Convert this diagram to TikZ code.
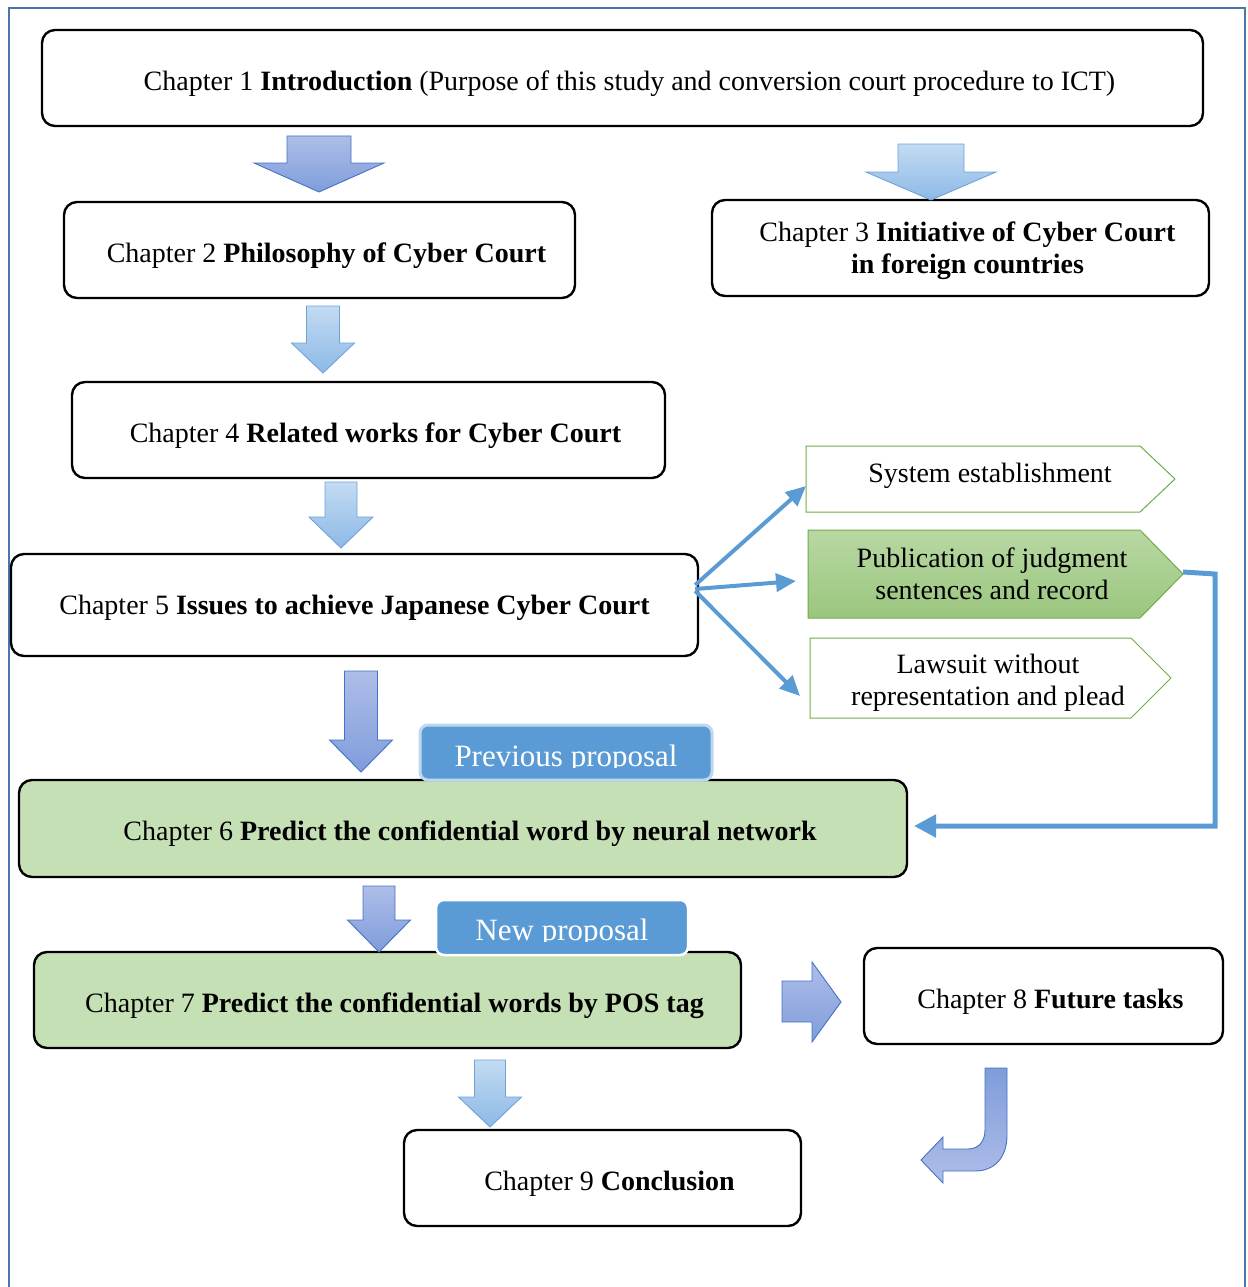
\documentclass[tikz,border=0pt]{standalone}
\usepackage{fontspec}
\setmainfont{Liberation Serif}
\usetikzlibrary{arrows.meta,calc}
\definecolor{frameblue}{HTML}{4A76A8}
\definecolor{conblue}{HTML}{5B9BD5}
\definecolor{chgreen}{HTML}{C5E0B4}
\definecolor{chevgreen}{HTML}{70AD47}
\definecolor{purtop}{HTML}{AEBDE8}
\definecolor{purbot}{HTML}{7F9DDB}
\definecolor{purEdge}{HTML}{4472C4}
\definecolor{lbtop}{HTML}{C3DBF2}
\definecolor{lbbot}{HTML}{8DB9E6}
\definecolor{lbEdge}{HTML}{6FA3D8}
\definecolor{labfill}{HTML}{5B9BD5}
\definecolor{labedge}{HTML}{BDD7EE}
\newcommand{\DArrow}[7]{\path[#7] (#1-#3,#2) -- (#1+#3,#2) -- (#1+#3,#4) -- (#1+#5,#4) -- (#1,#6) -- (#1-#5,#4) -- (#1-#3,#4) -- cycle;}
\newcommand{\ind}{\hspace*{14pt}}
\newcommand{\dn}[2][5pt]{\raisebox{-#1}[\height][\depth]{#2}}
\begin{document}
\begin{tikzpicture}[x=1pt,y=-1pt,
  chap/.style={draw=black, line width=2.4pt, rounded corners=13pt, fill=white, align=center, inner sep=0pt, font=\fontsize{28}{32}\selectfont},
  greenchap/.style={chap, fill=chgreen},
  chev/.style={draw=chevgreen, line width=1pt, fill=white},
  chevtext/.style={align=center, inner sep=0pt, font=\fontsize{28}{32}\selectfont},
  purarrow/.style={top color=purtop, bottom color=purbot, draw=purEdge, line width=0.9pt},
  lbarrow/.style={top color=lbtop, bottom color=lbbot, draw=lbEdge, line width=0.9pt},
  conn/.style={draw=conblue, line width=4pt, -{Triangle[length=20pt,width=18pt]}},
  lab/.style={fill=labfill, rounded corners=8pt, inner sep=0pt},
  labtext/.style={text=white, inner sep=0pt, anchor=base, font=\fontsize{31}{34}\selectfont}
]
\useasboundingbox (0,0) rectangle (1247,1287);
% frame
\draw[frameblue, line width=1.6pt] (9,1287) -- (9,8) -- (1245,8) -- (1245,1287);

% chapters
\node[chap, minimum width=1161, minimum height=96] (c1) at (622.5,78) {\dn[6pt]{\ind Chapter 1 \textbf{Introduction} (Purpose of this study and conversion court procedure to ICT)}};
\node[chap, minimum width=511, minimum height=96] (c2) at (319.5,250) {\dn[6pt]{\ind Chapter 2 \textbf{Philosophy of Cyber Court}}};
\node[chap, minimum width=497, minimum height=96] (c3) at (960.5,248) {\dn[3pt]{\begin{tabular}{@{}c@{}}\ind Chapter 3 \textbf{Initiative of Cyber Court}\\\ind\textbf{in foreign countries}\end{tabular}}};
\node[chap, minimum width=593, minimum height=96] (c4) at (368.5,430) {\dn[6pt]{\ind Chapter 4 \textbf{Related works for Cyber Court}}};
\node[chap, minimum width=687, minimum height=102] (c5) at (354.5,605) {\dn[3pt]{Chapter 5 \textbf{Issues to achieve Japanese Cyber Court}}};
\node[greenchap, minimum width=888, minimum height=97] (c6) at (463,828.5) {\dn{\ind Chapter 6 \textbf{Predict the confidential word by neural network}}};
\node[greenchap, minimum width=707, minimum height=96] (c7) at (387.5,1000) {\dn[6pt]{\ind Chapter 7 \textbf{Predict the confidential words by POS tag}}};
\node[chap, minimum width=359, minimum height=96] (c8) at (1043.5,996) {\dn[6pt]{\ind Chapter 8 \textbf{Future tasks}}};
\node[chap, minimum width=397, minimum height=96] (c9) at (602.5,1178) {\dn[6pt]{\ind Chapter 9 \textbf{Conclusion}}};

% chevrons
\path[chev] (806,446) -- (1140,446) -- (1175,479) -- (1140,512) -- (806,512) -- cycle;
\node[chevtext] (sys) at (990,476) {System establishment};
\path[chev, top color=chgreen!85!chevgreen, bottom color=chevgreen!70!white] (808,530) -- (1140,530) -- (1183,574) -- (1140,618) -- (808,618) -- cycle;
\node[chevtext] (pub) at (992,574) {Publication of judgment\\sentences and record};
\path[chev] (810,638) -- (1131,638) -- (1171,678) -- (1131,718) -- (810,718) -- cycle;
\node[chevtext] (law) at (988,683) {Lawsuit without\\representation and plead};

\coordinate (sysin) at (806,486);
\coordinate (pubin) at (796,581);
\coordinate (lawin) at (800,696);
\coordinate (pubtip) at (1183,572);
\coordinate (c6in) at (914,826);

% connectors from chapter 5
\draw[conn] ($(c5.east)+(-4,-20)$) -- (sysin);
\draw[conn] ($(c5.east)+(-4,-16)$) -- (pubin);
\draw[conn] ($(c5.east)+(-4,-14)$) -- (lawin);
\draw[conn, line width=5pt, -{Triangle[length=22pt,width=22pt]}] (pubtip) -- (1215,574) -- (1215,826) -- (c6in);

% block arrows
\DArrow{319}{136}{32}{163}{65}{192}{purarrow}
\DArrow{931}{144}{33}{172}{65}{200}{lbarrow}
\DArrow{323}{306}{16.5}{343}{31.5}{373}{lbarrow}
\DArrow{341}{482}{16}{517}{32}{548}{lbarrow}
\DArrow{361}{671}{16.5}{740}{31.5}{772}{purarrow}
\DArrow{379}{886}{16}{920}{31.5}{952}{purarrow}
\DArrow{490}{1060}{15.5}{1097}{31.5}{1127}{lbarrow}
\path[purarrow] (782,981) -- (812,981) -- (812,962) -- (841,1002) -- (812,1042) -- (812,1022) -- (782,1022) -- cycle;
\path[purarrow, top color=purbot, bottom color=purtop] (985,1068) -- (1007,1068) -- (1007,1135) .. controls (1007,1157) and (995,1171) .. (975,1171) -- (943,1171) -- (943,1183) -- (921,1160) -- (943,1137) -- (943,1149) -- (968,1149) .. controls (978,1149) and (985,1142) .. (985,1130) -- cycle;

% labels
\node[lab, draw=labedge, line width=3pt, minimum width=292, minimum height=55] (prev) at (566,752.5) {};
\begin{scope}
\clip (420,725) rectangle (712,767);
\node[labtext] (prevt) at (566,766) {Previous proposal};
\end{scope}
\node[lab, draw=white, line width=2.5pt, minimum width=252, minimum height=55] (newp) at (562,927.5) {};
\begin{scope}
\clip (436,900) rectangle (688,941);
\node[labtext] (newt) at (562,940) {New proposal};
\end{scope}
\end{tikzpicture}
\end{document}
